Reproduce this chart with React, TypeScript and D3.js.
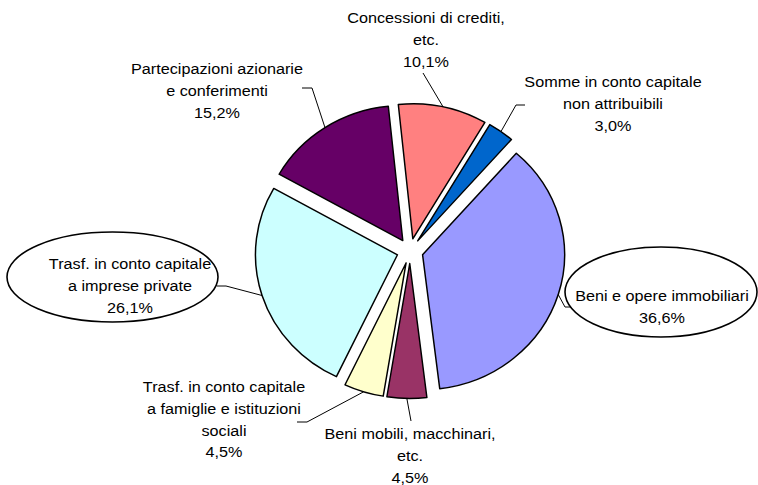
import React from "react";
import * as d3 from "d3";

// slices, clockwise from the first one
const categories = [
  ["Somme in conto capitale", "non attribuibili"],
  ["Beni e opere immobiliari"],
  ["Beni mobili, macchinari,", "etc."],
  ["Trasf. in conto capitale", "a famiglie e istituzioni", "sociali"],
  ["Trasf. in conto capitale", "a imprese private"],
  ["Partecipazioni azionarie", "e conferimenti"],
  ["Concessioni di crediti,", "etc."],
];
const values = [3.0, 36.6, 4.5, 4.5, 26.1, 15.2, 10.1];
const colors = ["#0066CC", "#9999FF", "#993366", "#FFFFCC", "#CCFFFF", "#660066", "#FF8080"];

// label layout: text centre, first baseline, leader bend points, optional ellipse
const labelLayout = [
  { x: 613, y: 87, leader: [[516, 105], [525, 105]] },
  { x: 662, y: 301, leader: [[565, 307], [575, 307]], ellipse: { cx: 661, cy: 292, rx: 96, ry: 45 } },
  { x: 410, y: 439, leader: [[411, 421]] },
  { x: 224, y: 392, leader: [[307, 422], [297, 422]] },
  { x: 130, y: 269, leader: [[226, 286], [217, 286]], ellipse: { cx: 112.5, cy: 277, rx: 105.5, ry: 45 } },
  { x: 217, y: 74, leader: [[312, 88], [302, 88]] },
  { x: 426, y: 23, leader: [[423, 73]] },
];

const W = 758;
const H = 485;
const cx = 410;
const cy = 251;
const radius = 135;
const sx = 1.052; // the original is slightly wider than tall
const explode = 12.5;
const lineH = 21.8;
const fontSize = 15.4;

const fmt = (v: number) => v.toFixed(1).replace(".", ",") + "%";

export default function App() {
  const start = (30.5 * Math.PI) / 180;
  const pie = d3
    .pie<number>()
    .sort(null)
    .value((d) => d)
    .startAngle(start)
    .endAngle(start + 2 * Math.PI);
  const arcs = pie(values);
  const arc = d3.arc<d3.PieArcDatum<number>>().innerRadius(0).outerRadius(radius);

  // page position of a point on a slice (angle from 12 o'clock, clockwise)
  const toPage = (a: number, r: number, mid: number) => {
    const ox = Math.sin(mid) * explode + Math.sin(a) * r;
    const oy = -Math.cos(mid) * explode - Math.cos(a) * r;
    return [cx + ox * sx, cy + oy];
  };

  return (
    <svg width={W} height={H} style={{ position: "absolute", left: 0, top: 0, background: "#fff" }}>
      <g transform={`translate(${cx},${cy}) scale(${sx},1)`}>
        {arcs.map((d, i) => {
          const mid = (d.startAngle + d.endAngle) / 2;
          return (
            <path
              key={i}
              d={arc(d) || ""}
              transform={`translate(${Math.sin(mid) * explode},${-Math.cos(mid) * explode})`}
              fill={colors[i]}
              stroke="#000"
              strokeWidth={1.4}
              strokeLinejoin="round"
            />
          );
        })}
      </g>

      {arcs.map((d, i) => {
        const mid = (d.startAngle + d.endAngle) / 2;
        const p0 = toPage(mid, radius, mid);
        const pts = [p0, ...labelLayout[i].leader];
        const line = d3.line()(pts as [number, number][]);
        return <path key={"l" + i} d={line || ""} fill="none" stroke="#000" strokeWidth={1} />;
      })}

      {labelLayout.map((l, i) =>
        l.ellipse ? (
          <ellipse
            key={"e" + i}
            cx={l.ellipse.cx}
            cy={l.ellipse.cy}
            rx={l.ellipse.rx}
            ry={l.ellipse.ry}
            fill="#fff"
            stroke="#000"
            strokeWidth={1.6}
          />
        ) : null
      )}

      {labelLayout.map((l, i) => {
        const lines = [...categories[i], fmt(values[i])];
        return (
          <g key={"t" + i} transform={`translate(${l.x},${l.y}) scale(${sx},1)`}>
            {lines.map((t, j) => (
              <text
                key={j}
                x={0}
                y={j * lineH}
                textAnchor="middle"
                fontFamily="'Liberation Sans', Arial, sans-serif"
                fontSize={fontSize}
                fill="#000"
              >
                {t}
              </text>
            ))}
          </g>
        );
      })}
    </svg>
  );
}
